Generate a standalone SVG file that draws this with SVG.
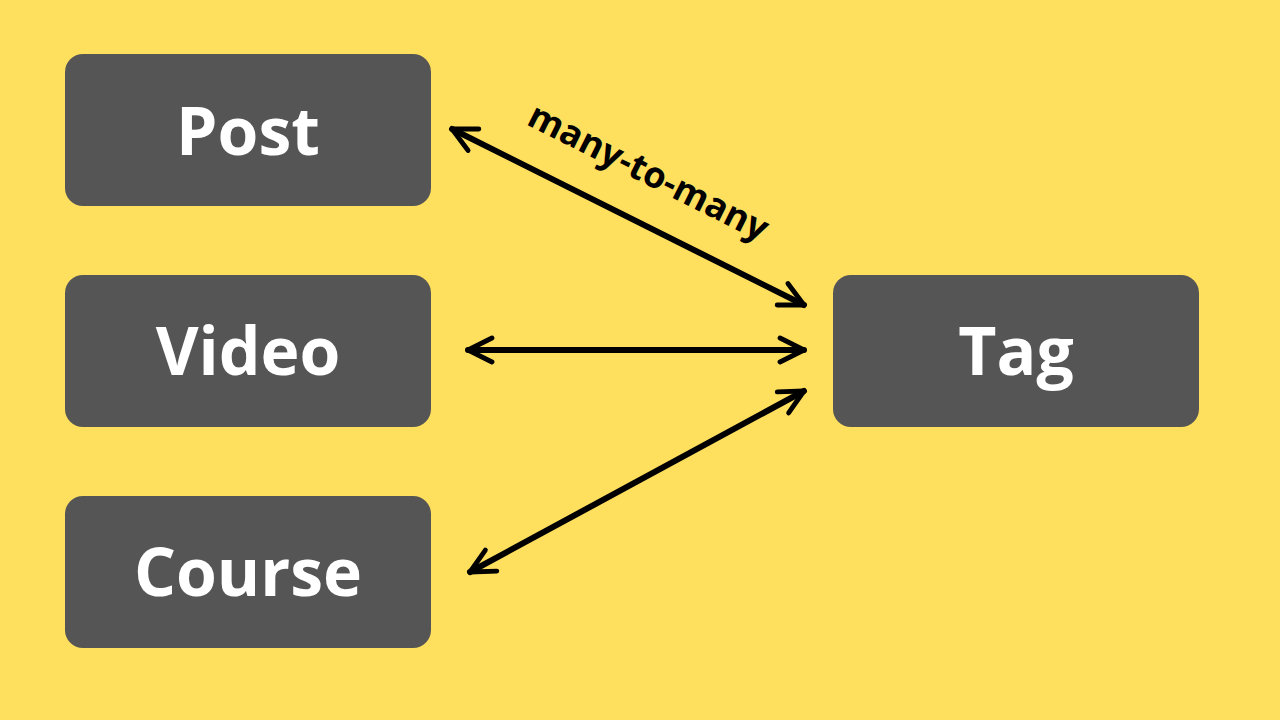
<svg xmlns="http://www.w3.org/2000/svg" width="1280" height="720" viewBox="0 0 1280 720">
<style>
.box{fill:#555555}
.lbl{font-family:"Open Sans","Liberation Sans",sans-serif;font-weight:bold;font-size:66px;fill:#ffffff;text-anchor:middle}
.ln{stroke:#000;stroke-width:6;fill:none;stroke-linecap:round}
</style>
<defs>
<marker id="ah" viewBox="0 0 10 10" refX="9" refY="5" markerWidth="5" markerHeight="5" orient="auto-start-reverse" markerUnits="strokeWidth">
<path d="M1,1 L9,5 L1,9" fill="none" stroke="#000" stroke-width="1.6" stroke-linecap="round" stroke-linejoin="round"/>
</marker>
</defs>
<rect width="1280" height="720" fill="#FFDF5E"/>
<g id="post"><rect class="box" x="65" y="54" width="366" height="152" rx="18"/><text class="lbl" x="248" y="155">Post</text></g>
<g id="video"><rect class="box" x="65" y="275" width="366" height="152" rx="18"/><text class="lbl" x="248" y="375">Video</text></g>
<g id="course"><rect class="box" x="65" y="496" width="366" height="152" rx="18"/><text class="lbl" x="248" y="596">Course</text></g>
<g id="tag"><rect class="box" x="833" y="275" width="366" height="152" rx="18"/><text class="lbl" x="1016" y="375">Tag</text></g>
<g id="connectors">
<line class="ln" x1="452" y1="129" x2="804" y2="305" marker-start="url(#ah)" marker-end="url(#ah)"/>
<line class="ln" x1="468" y1="350" x2="804" y2="350" marker-start="url(#ah)" marker-end="url(#ah)"/>
<line class="ln" x1="470" y1="572" x2="804" y2="391" marker-start="url(#ah)" marker-end="url(#ah)"/>
<text transform="translate(643,183) rotate(26.6)" font-family="'Open Sans','Liberation Sans',sans-serif" font-weight="bold" font-size="36" text-anchor="middle" fill="#000">many-to-many</text>
</g>
</svg>
